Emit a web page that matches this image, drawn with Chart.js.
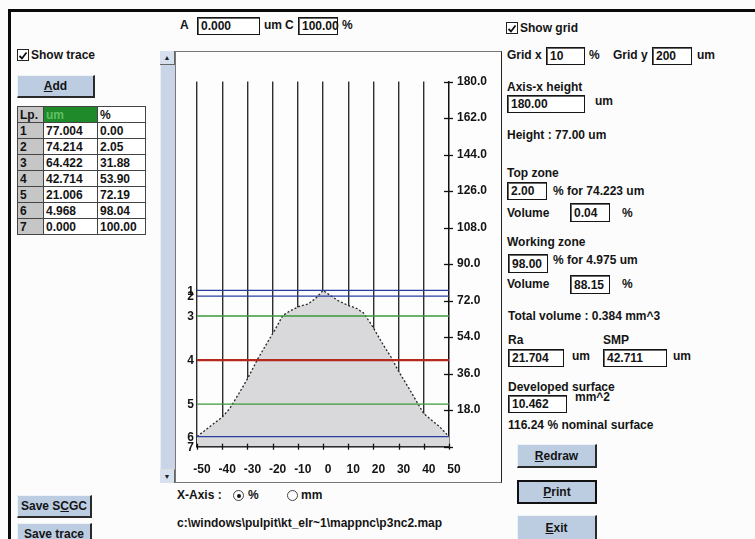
<!DOCTYPE html>
<html>
<head>
<meta charset="utf-8">
<title>Bearing curve</title>
<script src="https://cdn.jsdelivr.net/npm/chart.js@4.4.0/dist/chart.umd.min.js"></script>
<style>
  html, body { margin: 0; padding: 0; }
  body {
    width: 755px; height: 539px; position: relative; overflow: hidden;
    background: #fcfcfc; color: #141414;
    font: bold 12px "Liberation Sans", Arial, sans-serif;
  }
  .t { position: absolute; white-space: nowrap; line-height: 14px; }
  .box {
    position: absolute; box-sizing: border-box; background: #fff;
    border: 1px solid #151515; box-shadow: inset 1px 1px 0 #666;
    padding: 0 3px; white-space: nowrap; display: flex; align-items: center;
  }
  .btn {
    position: absolute; box-sizing: border-box; background: #bccde2;
    border-top: 1px solid #eef3fa; border-left: 1px solid #eef3fa;
    border-right: 2px solid #2a2a2a; border-bottom: 2px solid #2a2a2a;
    display: flex; align-items: center; justify-content: center;
  }
  .btn.def { border: 2px solid #111; }
  .cb {
    position: absolute; width: 12px; height: 12px; box-sizing: border-box;
    border: 1px solid #222; background: #fff;
  }
  .rd {
    position: absolute; width: 11px; height: 11px; box-sizing: border-box;
    border: 1px solid #444; border-radius: 50%; background: #fff;
  }
  .rd.on::after {
    content: ""; position: absolute; left: 2.5px; top: 2.5px;
    width: 4px; height: 4px; border-radius: 50%; background: #111;
  }
  table.pts {
    position: absolute; left: 17px; top: 106px; border-collapse: collapse;
    table-layout: fixed;
  }
  table.pts td {
    border: 1px solid #444; height: 15px; padding: 0 2px;
    line-height: 14px; white-space: nowrap; background: #fff;
  }
  table.pts td.lp { background: #c6c6c6; }
  table.pts td.hdr { background: #1f8a2a; color: #5fc063; }
</style>
</head>
<body>

<!-- window frame -->
<div style="position:absolute;left:8px;top:9px;width:747px;height:3px;background:#0a0a0a"></div>
<div style="position:absolute;left:8px;top:9px;width:3px;height:530px;background:#0a0a0a"></div>

<!-- left column -->
<div class="cb" style="left:17px;top:49px"><svg width="10" height="10" viewBox="0 0 10 10"><path d="M1.5 5 L4 7.5 L8.5 1.5" stroke="#111" stroke-width="1.8" fill="none"/></svg></div>
<div class="t" style="left:31px;top:48px">Show trace</div>
<div class="btn" style="left:17px;top:75px;width:78px;height:23px"><span><u>A</u>dd</span></div>
<table class="pts" id="pts"></table>
<div class="btn" style="left:17px;top:495px;width:75px;height:23px"><span>Save S<u>C</u>GC</span></div>
<div class="btn" style="left:17px;top:523px;width:75px;height:23px"><span>Save trace</span></div>

<!-- top fields -->
<div class="t" style="left:180px;top:18px">A</div>
<div class="box" style="left:197px;top:17px;width:63px;height:18px">0.000</div>
<div class="t" style="left:264px;top:18px">um</div>
<div class="t" style="left:285px;top:18px">C</div>
<div class="box" style="left:298px;top:17px;width:40px;height:18px">100.00</div>
<div class="t" style="left:342px;top:18px">%</div>

<!-- plot frame, scroll bar and chart -->
<div style="position:absolute;left:160px;top:51px;width:15px;height:432px;background:#c9d4e7;box-sizing:border-box;border-left:1px solid #e8eef7"></div>
<div style="position:absolute;left:160px;top:51px;width:15px;height:14px;background:#d7e0ee;box-sizing:border-box;border-right:1px solid #666;border-bottom:1px solid #666;font-size:7px;line-height:13px;text-align:center;color:#222">&#9650;</div>
<div style="position:absolute;left:160px;top:469px;width:15px;height:14px;background:#d7e0ee;box-sizing:border-box;border-right:1px solid #666;border-top:1px solid #ddd;font-size:7px;line-height:13px;text-align:center;color:#222">&#9660;</div>
<div style="position:absolute;left:175px;top:51px;width:327px;height:432px;box-sizing:border-box;border:1px solid #777;border-right:1px solid #222;background:#fdfdfd"></div>
<canvas id="c" width="325" height="430" style="position:absolute;left:176px;top:52px"></canvas>

<!-- x-axis unit switch and file path -->
<div class="t" style="left:177px;top:488px">X-Axis :</div>
<div class="rd on" style="left:233px;top:490px"></div>
<div class="t" style="left:248px;top:488px">%</div>
<div class="rd" style="left:287px;top:490px"></div>
<div class="t" style="left:301px;top:488px">mm</div>
<div class="t" style="left:177px;top:516px">c:\windows\pulpit\kt_elr~1\mappnc\p3nc2.map</div>

<!-- right column -->
<div class="cb" style="left:506px;top:22px"><svg width="10" height="10" viewBox="0 0 10 10"><path d="M1.5 5 L4 7.5 L8.5 1.5" stroke="#111" stroke-width="1.8" fill="none"/></svg></div>
<div class="t" style="left:520px;top:21px">Show grid</div>
<div class="t" style="left:507px;top:48px">Grid x</div>
<div class="box" style="left:546px;top:47px;width:39px;height:18px">10</div>
<div class="t" style="left:589px;top:48px">%</div>
<div class="t" style="left:613px;top:48px">Grid y</div>
<div class="box" style="left:652px;top:47px;width:40px;height:18px">200</div>
<div class="t" style="left:697px;top:48px">um</div>

<div class="t" style="left:507px;top:80px">Axis-x height</div>
<div class="box" style="left:507px;top:95px;width:78px;height:18px">180.00</div>
<div class="t" style="left:595px;top:94px">um</div>
<div class="t" style="left:507px;top:128px">Height : 77.00 um</div>

<div class="t" style="left:507px;top:166px">Top zone</div>
<div class="box" style="left:507px;top:182px;width:40px;height:18px">2.00</div>
<div class="t" style="left:553px;top:184px">% for 74.223 um</div>
<div class="t" style="left:507px;top:206px">Volume</div>
<div class="box" style="left:570px;top:203px;width:40px;height:19px">0.04</div>
<div class="t" style="left:622px;top:206px">%</div>

<div class="t" style="left:507px;top:235px">Working zone</div>
<div class="box" style="left:508px;top:254px;width:40px;height:19px">98.00</div>
<div class="t" style="left:553px;top:253px">% for 4.975 um</div>
<div class="t" style="left:507px;top:277px">Volume</div>
<div class="box" style="left:570px;top:275px;width:40px;height:19px">88.15</div>
<div class="t" style="left:622px;top:277px">%</div>

<div class="t" style="left:508px;top:309px">Total volume : 0.384 mm^3</div>
<div class="t" style="left:508px;top:333px">Ra</div>
<div class="t" style="left:603px;top:333px">SMP</div>
<div class="box" style="left:508px;top:349px;width:56px;height:18px">21.704</div>
<div class="t" style="left:572px;top:349px">um</div>
<div class="box" style="left:603px;top:349px;width:64px;height:18px">42.711</div>
<div class="t" style="left:673px;top:349px">um</div>

<div class="t" style="left:508px;top:380px">Developed surface</div>
<div class="box" style="left:508px;top:395px;width:59px;height:18px">10.462</div>
<div class="t" style="left:575px;top:390px">mm^2</div>
<div class="t" style="left:508px;top:418px">116.24 % nominal surface</div>

<div class="btn" style="left:517px;top:444px;width:80px;height:24px"><span><u>R</u>edraw</span></div>
<div class="btn def" style="left:517px;top:480px;width:80px;height:24px"><span><u>P</u>rint</span></div>
<div class="btn" style="left:517px;top:515px;width:80px;height:26px"><span><u>E</u>xit</span></div>

<script>
// Bearing-curve points: height [um] and cumulated share [%]
const levelNames = ['1', '2', '3', '4', '5', '6', '7'];
const levelHeights = [77.004, 74.214, 64.422, 42.714, 21.006, 4.968, 0.000];
const levelShares = [0.00, 2.05, 31.88, 53.90, 72.19, 98.04, 100.00];

// Surface profile across the sample: position [%] and height [um]
const profileX = [-50, -45, -40, -37, -33, -30, -26, -22, -19, -16, -13, -9, -6, -3, 0,
                  3, 6, 10, 13, 16, 19, 21, 24, 27, 30, 34, 37, 40, 43, 46, 50];
const profileY = [5.0, 9.8, 14.6, 18.8, 27.0, 33.4, 43.0, 51.5, 57.8, 64.6, 67.0, 69.4, 70.3, 73.0, 77.0,
                  74.5, 72.0, 69.6, 68.4, 66.0, 60.6, 56.4, 50.0, 44.2, 37.2, 29.0, 22.6, 16.3, 13.2, 10.2, 5.0];

// Axis settings
const xMin = -50, xMax = 50, xStep = 10;
const yMin = 0, yMax = 180, yStep = 18;

// Colour of each level line
const levelColors = ['#2b3c9f', '#2b3c9f', '#3a9a3c', '#b3291d', '#3a9a3c', '#2b3c9f', '#1a1a1a'];
const levelWidths = [1.3, 1.3, 1.3, 2.2, 1.3, 1.3, 1.3];

const FONT = '"Liberation Sans", Arial, sans-serif';

// Table of points
(function buildTable() {
  const tbl = document.getElementById('pts');
  let html = '<colgroup><col style="width:26px"><col style="width:54px"><col style="width:48px"></colgroup>';
  html += '<tr><td class="lp">Lp.</td><td class="hdr">um</td><td>%</td></tr>';
  levelNames.forEach((n, i) => {
    html += '<tr><td class="lp">' + n + '</td><td>' + levelHeights[i].toFixed(3) +
            '</td><td>' + levelShares[i].toFixed(2) + '</td></tr>';
  });
  tbl.innerHTML = html;
})();

// Ticks crossing both axes and the level numbers beside the plot
const axisMarks = {
  id: 'axisMarks',
  afterDatasetsDraw(chart) {
    const { ctx, chartArea: a, scales: { x, y } } = chart;
    ctx.save();
    ctx.strokeStyle = '#111';
    ctx.lineWidth = 1.3;
    y.ticks.forEach(t => {
      const py = Math.round(y.getPixelForValue(t.value)) + 0.5;
      ctx.beginPath(); ctx.moveTo(a.right - 5, py); ctx.lineTo(a.right + 4, py); ctx.stroke();
    });
    x.ticks.forEach(t => {
      const px = Math.round(x.getPixelForValue(t.value)) + 0.5;
      ctx.beginPath(); ctx.moveTo(px, a.bottom - 3); ctx.lineTo(px, a.bottom + 3); ctx.stroke();
    });
    ctx.fillStyle = '#141414';
    ctx.font = 'bold 12px ' + FONT;
    ctx.textAlign = 'right';
    ctx.textBaseline = 'middle';
    levelHeights.forEach((h, i) => {
      ctx.fillText(levelNames[i], a.left - 3, y.getPixelForValue(h) + 1);
    });
    ctx.restore();
  }
};

const datasets = [{
  data: profileX.map((x, i) => ({ x: x, y: profileY[i] })),
  borderColor: '#262626',
  borderWidth: 1.3,
  borderDash: [2, 2],
  backgroundColor: '#d9d9dc',
  fill: 'origin',
  pointRadius: 0,
  tension: 0,
  order: 10
}];
levelHeights.forEach((h, i) => {
  datasets.push({
    data: [{ x: xMin, y: h }, { x: xMax, y: h }],
    borderColor: levelColors[i],
    borderWidth: levelWidths[i],
    pointRadius: 0,
    fill: false,
    order: 1
  });
});

new Chart(document.getElementById('c'), {
  type: 'line',
  data: { datasets: datasets },
  options: {
    responsive: false,
    animation: false,
    devicePixelRatio: 1,
    layout: { padding: { left: 21, right: 12, top: 29.5, bottom: 5.3 } },
    plugins: { legend: { display: false }, tooltip: { enabled: false } },
    scales: {
      x: {
        type: 'linear', position: 'bottom', min: xMin, max: xMax,
        afterFit: s => { s.height = 30; },
        ticks: {
          stepSize: xStep, padding: 3, labelOffset: 5, autoSkip: false, maxRotation: 0,
          color: '#141414', font: { family: FONT, size: 12, weight: 'bold' },
          callback: v => String(v)
        },
        grid: {
          drawTicks: true, tickLength: 13, tickColor: 'rgba(0,0,0,0)', lineWidth: 1.4,
          color: c => (c.tick && c.tick.value === xMax) ? 'rgba(0,0,0,0)' : '#2e2e2e'
        },
        border: { color: '#111', width: 1.5 }
      },
      y: {
        position: 'right', min: yMin, max: yMax,
        afterFit: s => { s.width = 40; },
        ticks: {
          stepSize: yStep, padding: 8,
          color: '#141414', font: { family: FONT, size: 12, weight: 'bold' },
          callback: v => v === yMin ? '' : v.toFixed(1)
        },
        grid: { drawOnChartArea: false, drawTicks: false },
        border: { color: '#111', width: 1.5 }
      }
    }
  },
  plugins: [axisMarks]
});
</script>
</body>
</html>
